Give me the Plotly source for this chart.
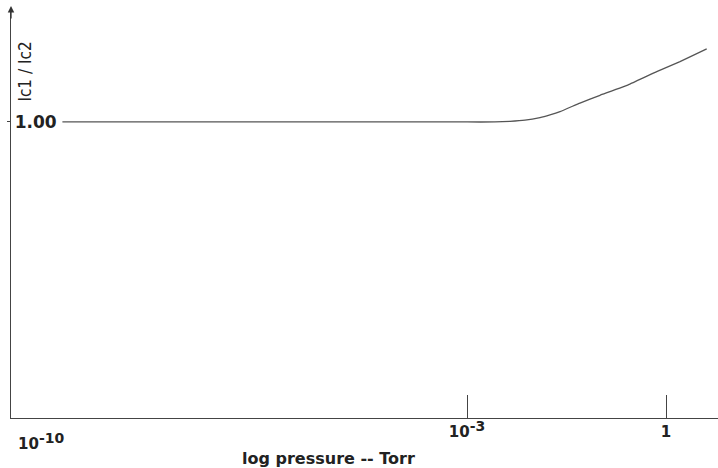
import plotly.graph_objects as go

# log10(pressure / Torr) and Ic1/Ic2
log_pressure = [-9.1, -5.0, -3.0, -2.578, -2.352, -2.126, -1.900, -1.749, -1.598,
                -1.297, -0.995, -0.543, -0.140, 0.211, 0.614]
ratio = [1.000, 1.000, 1.000, 1.000, 1.002, 1.006, 1.015, 1.024, 1.035,
         1.064, 1.090, 1.128, 1.170, 1.204, 1.247]

x_tick_vals = [-3, 0]
x_tick_text = ["<b>10</b><sup><b><span style='font-size:14px'>-3</span></b></sup>", "<b>1</b>"]
y_tick_vals = [1.0]
y_tick_text = ["<b>1.00</b>"]

fig = go.Figure()
fig.add_trace(go.Scatter(
    x=log_pressure, y=ratio, mode="lines",
    line=dict(color="#555555", width=1.3, shape="spline", smoothing=0.3),
    hoverinfo="skip", showlegend=False,
))

fig.update_layout(
    width=718, height=468,
    margin=dict(l=11, r=0, t=8, b=50, autoexpand=False),
    paper_bgcolor="white", plot_bgcolor="white",
    font=dict(family="DejaVu Sans", color="#222222"),
    xaxis=dict(
        range=[-9.875, 0.784], showgrid=False, zeroline=False, automargin=False,
        showline=True, linecolor="#444444", linewidth=1.3,
        ticks="inside", ticklen=23, tickwidth=1.3, tickcolor="#444444",
        tickvals=x_tick_vals, ticktext=x_tick_text,
        tickfont=dict(family="DejaVu Sans", size=15, color="#222222"),
    ),
    yaxis=dict(
        range=[0, 1.385], showgrid=False, zeroline=False, automargin=False,
        showline=True, linecolor="#444444", linewidth=1.3,
        ticks="outside", ticklen=3, tickwidth=1, tickcolor="#444444",
        tickvals=y_tick_vals, ticktext=y_tick_text,
        ticklabelposition="inside", ticklabelstandoff=4,
        tickfont=dict(family="DejaVu Sans", size=17, color="#222222"),
    ),
    annotations=[
        dict(text="<b>10</b><sup><b><span style='font-size:14px'>-10</span></b></sup>",
             xref="paper", yref="paper",
             x=0.042, y=-0.025, xanchor="center", yanchor="top", showarrow=False,
             font=dict(family="DejaVu Sans", size=15, color="#222222")),
        dict(text="<b>log pressure -- Torr</b>", xref="paper", yref="paper",
             x=0.449, y=-0.098, xanchor="center", yanchor="middle", showarrow=False,
             font=dict(family="DejaVu Sans", size=16, color="#222222")),
        dict(text="Ic1 / Ic2", xref="paper", yref="paper",
             x=0.0, y=0.845, xanchor="left", yanchor="middle", xshift=2,
             textangle=-90, showarrow=False,
             font=dict(family="DejaVu Sans Condensed", size=17, color="#222222")),
        dict(text="", xref="paper", yref="paper", x=0, y=1.005,
             ax=0, ay=14, showarrow=True, arrowhead=2, arrowsize=1,
             arrowwidth=1.3, arrowcolor="#333333"),
    ],
)

fig.write_html("out.html", config={"displayModeBar": False},
               post_script="document.body.style.margin='0';document.body.style.padding='0';")
